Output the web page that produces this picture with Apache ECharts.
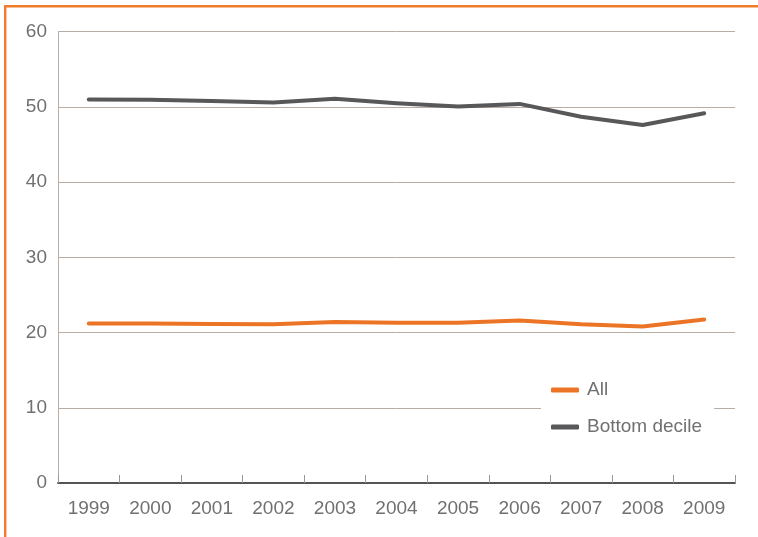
<!DOCTYPE html>
<html>
<head>
<meta charset="utf-8">
<script src="https://cdn.jsdelivr.net/npm/echarts@6/dist/echarts.min.js"></script>
<style>
html,body{margin:0;padding:0;background:#fff;}
#chart{width:758px;height:537px;}
</style>
</head>
<body>
<div id="chart"></div>
<script>
const years = ['1999','2000','2001','2002','2003','2004','2005','2006','2007','2008','2009'];
const allValues = [21.2, 21.2, 21.15, 21.1, 21.4, 21.3, 21.3, 21.6, 21.1, 20.8, 21.75];
const bottomDecile = [51.0, 50.95, 50.8, 50.6, 51.1, 50.5, 50.05, 50.4, 48.7, 47.6, 49.15];
const yTicks = {min: 0, max: 60, interval: 10};

const textColor = '#707072';
const font = "'Liberation Sans', Arial, Helvetica, sans-serif";
const chart = echarts.init(document.getElementById('chart'));
chart.setOption({
  animation: false,
  backgroundColor: '#fff',
  graphic: [
    {type: 'line', shape: {x1: 5.2, y1: 6.2, x2: 5.2, y2: 537}, style: {stroke: '#f07d2b', lineWidth: 2.4}, z: 100},
    {type: 'line', shape: {x1: 4, y1: 6.2, x2: 758, y2: 6.2}, style: {stroke: '#f07d2b', lineWidth: 2.4}, z: 100}
  ],
  grid: {left: 58, right: 23, top: 31.7, bottom: 54, containLabel: false},
  legend: {
    orient: 'vertical',
    left: 541,
    top: 366,
    backgroundColor: '#fff',
    padding: [14, 12, 14, 10],
    itemWidth: 28,
    itemHeight: 5,
    itemGap: 17,
    icon: 'roundRect',
    textStyle: {fontFamily: font, fontSize: 19, color: textColor, lineHeight: 20, padding: [0,0,0,3]},
    data: ['All', 'Bottom decile']
  },
  xAxis: {
    type: 'category',
    data: years,
    boundaryGap: true,
    axisLine: {lineStyle: {color: '#555555', width: 2}},
    axisTick: {show: true, inside: true, length: 8, lineStyle: {color: '#a09890', width: 1}},
    axisLabel: {fontFamily: font, fontSize: 19, color: textColor, margin: 16}
  },
  yAxis: {
    type: 'value',
    min: yTicks.min,
    max: yTicks.max,
    interval: yTicks.interval,
    axisLine: {show: true, lineStyle: {color: '#b8ada4', width: 1}},
    axisTick: {show: false},
    splitLine: {lineStyle: {color: '#b8ada4', width: 1}},
    axisLabel: {fontFamily: font, fontSize: 19, color: textColor, margin: 11}
  },
  series: [
    {
      name: 'All', type: 'line', data: allValues, symbol: 'none',
      lineStyle: {color: '#ec7426', width: 4, cap: 'round', join: 'round'},
      itemStyle: {color: '#ec7426'}, z: 3
    },
    {
      name: 'Bottom decile', type: 'line', data: bottomDecile, symbol: 'none',
      lineStyle: {color: '#58585a', width: 4, cap: 'round', join: 'round'},
      itemStyle: {color: '#58585a'}, z: 3
    }
  ]
});
</script>
</body>
</html>
